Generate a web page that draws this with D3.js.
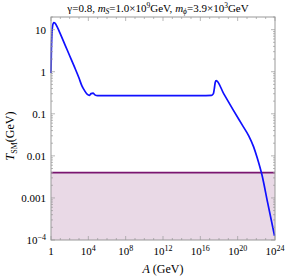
<!DOCTYPE html>
<meta charset="utf-8">
<html>
<style>
 body { margin:0; background:#fff; }
 svg { display:block; font-family:"Liberation Serif","DejaVu Serif",serif; }
</style>
<script src="https://d3js.org/d3.v7.min.js"></script>
<svg width="286" height="278"></svg>
<script>
// curve: [log10 A, log10 T]
const logA = [0,0.04,0.1,0.18,0.3,0.45,0.7,1,1.5,2,2.5,3,3.3,3.6,3.9,4.1,4.3,4.5,4.7,5,8,12,16,17.2,17.4,17.5,17.6,17.7,18.5,19.5,20.5,21.2,21.7,22.1,22.6,23.2,23.95]
const logT = [-0.03,0.5,0.9,1.1,1.17,1.15,1.05,0.9,0.64,0.38,0.12,-0.15,-0.33,-0.45,-0.54,-0.56,-0.52,-0.51,-0.55,-0.57,-0.57,-0.57,-0.57,-0.56,-0.52,-0.4,-0.25,-0.21,-0.52,-0.9,-1.27,-1.53,-1.78,-2.05,-2.45,-3.1,-3.9]
const bound = 0.004
const yTicks = [10,1,0.1,0.01,0.001,1e-4]
const yLabels = ['10','1','0.1','0.01','0.001','10^-4']
const xTicks = [0,4,8,12,16,20,24]

const svg = d3.select('svg')
const pLeft = 51, pRight = 275, pTop = 17, pBottom = 240

const x = d3.scaleLinear().domain([0,24]).range([pLeft,pRight])
const y = d3.scaleLog().domain([1e-4,20]).range([pBottom,pTop])

// shaded excluded band
svg.append('rect')
	.attr('x',pLeft).attr('y',y(bound))
	.attr('width',pRight-pLeft).attr('height',pBottom-y(bound))
	.attr('fill','#e9d9e6')

svg.append('line')
	.attr('x1',pLeft).attr('x2',pRight)
	.attr('y1',y(bound)).attr('y2',y(bound))
	.attr('stroke','#7a1670').attr('stroke-width',1.6)

const pts = logA.map((a,i)=>[a,Math.pow(10,logT[i])])
svg.append('path')
	.datum(pts)
	.attr('fill','none')
	.attr('stroke','#1010ff')
	.attr('stroke-width',1.7)
	.attr('d',d3.line().x(d=>x(d[0])).y(d=>y(d[1])).curve(d3.curveMonotoneX))

// frame
svg.append('rect')
	.attr('x',pLeft).attr('y',pTop)
	.attr('width',pRight-pLeft).attr('height',pBottom-pTop)
	.attr('fill','none').attr('stroke','#999').attr('stroke-width',1)

const tk = svg.append('g').attr('stroke','#999').attr('stroke-width',0.7)
// y ticks, major + minor, both sides
for (let e=-4;e<=1;e++){
	for (let m=1;m<=9;m++){
		const v = m*Math.pow(10,e)
		if (v>20) continue
		const len = m===1?4:2
		tk.append('line').attr('x1',pLeft).attr('x2',pLeft+len).attr('y1',y(v)).attr('y2',y(v))
		tk.append('line').attr('x1',pRight).attr('x2',pRight-len).attr('y1',y(v)).attr('y2',y(v))
	}
}
// x ticks, every decade
for (let e=0;e<=24;e++){
	const len = e%4===0?4:2
	tk.append('line').attr('x1',x(e)).attr('x2',x(e)).attr('y1',pBottom).attr('y2',pBottom-len)
	tk.append('line').attr('x1',x(e)).attr('x2',x(e)).attr('y1',pTop).attr('y2',pTop+len)
}

// y labels
yTicks.forEach((v,i)=>{
	const t = svg.append('text')
		.attr('x',pLeft-5).attr('y',y(v)+4)
		.attr('text-anchor','end')
		.attr('font-size',11)
	const lab = yLabels[i]
	if (lab.includes('^')){
		const [b,p] = lab.split('^')
		t.append('tspan').text(b)
		t.append('tspan').attr('dy',-4).attr('font-size',8).text(p.replace('-','\u2212'))
	} else t.text(lab)
})

// x labels
xTicks.forEach(e=>{
	const t = svg.append('text')
		.attr('x',x(e)).attr('y',pBottom+15)
		.attr('text-anchor','middle')
		.attr('font-size',11)
	if (e===0) t.text('1')
	else {
		t.append('tspan').text('10')
		t.append('tspan').attr('dy',-4).attr('font-size',8).text(e)
	}
})

// axis titles
svg.append('text')
	.attr('x',163).attr('y',273)
	.attr('text-anchor','middle').attr('font-size',12)
	.call(t=>{
		t.append('tspan').attr('font-style','italic').text('A')
		t.append('tspan').text(' (GeV)')
	})

svg.append('text')
	.attr('transform','translate(14,136) rotate(-90)')
	.attr('text-anchor','middle').attr('font-size',12)
	.call(t=>{
		t.append('tspan').attr('font-style','italic').text('T')
		t.append('tspan').attr('dy',3).attr('font-size',8).text('SM')
		t.append('tspan').attr('dy',-3).text('(GeV)')
	})

// title
svg.append('text')
	.attr('x',158).attr('y',12)
	.attr('text-anchor','middle').attr('font-size',11)
	.call(t=>{
		t.append('tspan').text('\u03b3=0.8, ')
		t.append('tspan').attr('font-style','italic').text('m')
		t.append('tspan').attr('dy',2).attr('font-size',7.5).attr('font-style','italic').text('S')
		t.append('tspan').attr('dy',-2).text('=1.0\u00d710')
		t.append('tspan').attr('dy',-4).attr('font-size',7.5).text('9')
		t.append('tspan').attr('dy',4).text('GeV, ')
		t.append('tspan').attr('font-style','italic').text('m')
		t.append('tspan').attr('dy',2).attr('font-size',7.5).attr('font-style','italic').text('\u03d5')
		t.append('tspan').attr('dy',-2).text('=3.9\u00d710')
		t.append('tspan').attr('dy',-4).attr('font-size',7.5).text('3')
		t.append('tspan').attr('dy',4).text('GeV')
	})
</script>
</html>
